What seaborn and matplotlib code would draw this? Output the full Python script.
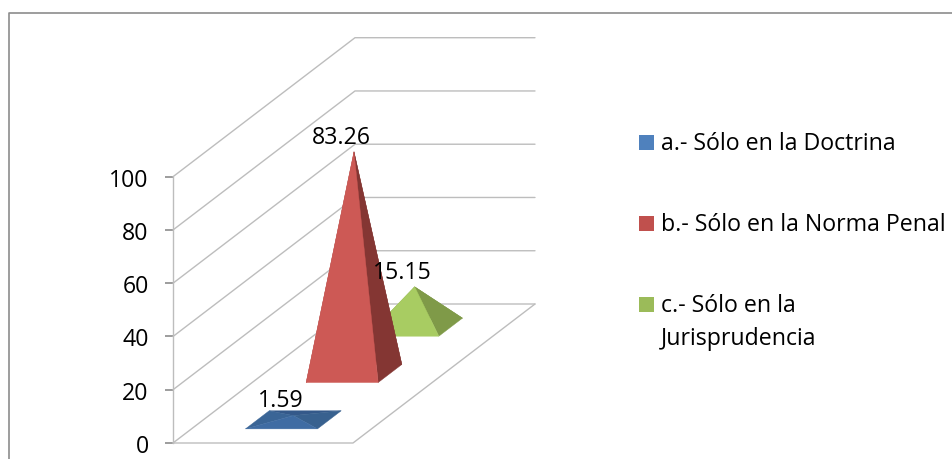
import matplotlib
matplotlib.use("Agg")
import matplotlib.pyplot as plt
from matplotlib.lines import Line2D
from matplotlib.patches import Polygon, Rectangle
import seaborn as sns

# Survey results, one pyramid per answer
categories = ["a.- Sólo en la Doctrina", "b.- Sólo en la Norma Penal", "c.- Sólo en la\nJurisprudencia"]
values = [1.59, 83.26, 15.15]
value_ticks = [0, 20, 40, 60, 80, 100]
legend_colors = ["#4F81BD", "#C0504D", "#9BBB59"]
# Face shades: back, left, right, front
face_colors = [
    ["#34598A", "#3A6596", "#38618F", "#3F6CA3"],
    ["#843633", "#A84A47", "#843633", "#CD5955"],
    ["#7F9A48", "#92B052", "#7F9A48", "#A8CC62"],
]

W, H = 953, 460
X0, Y0 = 173, 444          # pixel position of the axis origin
PX_PER_X, PX_PER_V = 180, 2.663
DEPTH_X, DEPTH_Y = 182 / PX_PER_X, 139 / PX_PER_V   # oblique shift for one unit of depth
HALF_W, HALF_D = 0.2, 0.065
CENTER_X = 0.5
FONT = 16.7

sns.set_theme(style="white")
plt.rcParams["font.family"] = ["Open Sans", "DejaVu Sans"]

fig = plt.figure(figsize=(W / 100, H / 100), dpi=100)
ax = fig.add_axes([0, 0, 1, 1])
ax.set_xlim(-X0 / PX_PER_X, (W - X0) / PX_PER_X)
ax.set_ylim(-(H - Y0) / PX_PER_V, Y0 / PX_PER_V)
ax.patch.set_visible(False)


def project(x, depth, value=0.0):
    """Oblique projection of a point in the chart box onto the axes."""
    return x + DEPTH_X * depth, value + DEPTH_Y * depth


# Value axis drawn on the front-left edge
for name in ("top", "right", "bottom"):
    ax.spines[name].set_visible(False)
ax.spines["left"].set_position(("data", 0))
ax.spines["left"].set_bounds(0, 100)
ax.spines["left"].set_color("#BDBDBD")
ax.spines["left"].set_linewidth(1.0)
ax.set_xticks([])
ax.set_yticks(value_ticks)
ax.tick_params(axis="y", direction="out", length=5.5, width=1.2, color="#8C8C8C",
               pad=12, labelsize=FONT, labelcolor="black", left=True)

# Gridlines on the side and back walls, floor outline
grid = dict(color="#BDBDBD", lw=1.0, zorder=1)
for v in value_ticks:
    ax.plot(*zip(project(0, 0, v), project(0, 1, v), project(1, 1, v)), **grid)
ax.plot(*zip(project(0, 0), project(1, 0), project(1, 1)), **grid)

# Pyramids, furthest first so nearer ones overlap them
n = len(values)
for i in reversed(range(n)):
    depth = (i + 0.5) / n
    fl = project(CENTER_X - HALF_W, depth - HALF_D)
    fr = project(CENTER_X + HALF_W, depth - HALF_D)
    br = project(CENTER_X + HALF_W, depth + HALF_D)
    bl = project(CENTER_X - HALF_W, depth + HALF_D)
    apex = project(CENTER_X, depth, values[i])
    faces = [(bl, br), (fl, bl), (fr, br), (fl, fr)]
    for (a, b), color in zip(faces, face_colors[i]):
        ax.add_patch(Polygon([a, b, apex], closed=True, facecolor=color,
                             edgecolor=color, lw=0.3, zorder=3 + n - i))
    ax.annotate(f"{values[i]:.2f}", apex, xytext=(-9.2, 11.0), textcoords="offset points",
                ha="center", va="center", fontsize=FONT, color="black", zorder=20)

# Legend laid out on figure pixels
entry_y = [143.5, 224, 305]
for label, color, y in zip(categories, legend_colors, entry_y):
    fig.add_artist(Rectangle((639 / W, 1 - (y + 7.5) / H), 15 / W, 15 / H,
                             transform=fig.transFigure, facecolor=color, edgecolor="none"))
    fig.text(661 / W, 1 - (y - 11) / H, label, ha="left", va="top", fontsize=FONT,
             color="black", linespacing=1.48)

# Chart frame: only the top and left edges fall inside the canvas
fig.add_artist(Line2D([9.5 / W, 9.5 / W, 1], [0, 1 - 13.5 / H, 1 - 13.5 / H],
                      transform=fig.transFigure, color="#8C8C8C", lw=1.2))

fig.savefig("out.png", dpi=100)
